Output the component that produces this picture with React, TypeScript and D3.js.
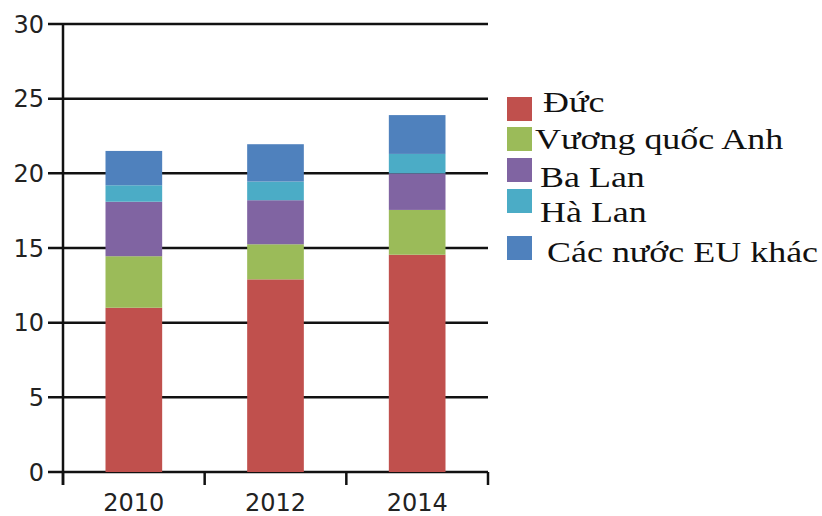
import React from "react";
import * as d3 from "d3";

const years = ["2010", "2012", "2014"];
const seriesNames = ["Đức", "Vương quốc Anh", "Ba Lan", "Hà Lan", "Các nước EU khác"];
const duc = [11.0, 12.9, 14.55];
const vuongQuocAnh = [3.45, 2.35, 3.0];
const baLan = [3.65, 2.95, 2.45];
const haLan = [1.1, 1.25, 1.3];
const euKhac = [2.3, 2.5, 2.6];
const yTicks = [0, 5, 10, 15, 20, 25, 30];
const colors = ["#c0504d", "#9bbb59", "#8064a2", "#4bacc6", "#4f81bd"];

const W = 822;
const H = 516;
const left = 63;
const right = 488;
const top = 24;
const bottom = 472;

export default function App() {
  const seriesValues = [duc, vuongQuocAnh, baLan, haLan, euKhac];
  const rows = years.map((y, i) => {
    const r: Record<string, number | string> = { year: y };
    seriesNames.forEach((n, s) => (r[n] = seriesValues[s][i]));
    return r;
  });
  const stack = d3.stack<any>().keys(seriesNames)(rows);

  const x = d3.scaleBand().domain(years).range([left, right]).paddingInner(0).paddingOuter(0);
  const y = d3.scaleLinear().domain([0, 30]).range([bottom, top]);
  const barW = x.bandwidth() * 0.4;

  const axisFont = "'DejaVu Sans', Verdana, sans-serif";
  const legendFont = "'Liberation Serif', 'Times New Roman', serif";

  const bandEdges = [...years.map((d) => x(d) as number), right];

  return (
    <svg
      width={W}
      height={H}
      style={{ position: "absolute", left: 0, top: 0, background: "#fff" }}
    >
      {/* gridlines and y ticks */}
      {yTicks.map((t) => (
        <g key={t}>
          <line x1={48} x2={right} y1={y(t)} y2={y(t)} stroke="#111" strokeWidth={2.5} />
          <text
            x={44}
            y={y(t)}
            dy="0.36em"
            textAnchor="end"
            fontFamily={axisFont}
            fontSize={24}
            fill="#222"
          >
            {t}
          </text>
        </g>
      ))}

      {/* stacked bars */}
      {stack.map((layer, s) => (
        <g key={layer.key} fill={colors[s]}>
          {layer.map((d, i) => (
            <rect
              key={i}
              x={(x(years[i]) as number) + (x.bandwidth() - barW) / 2}
              y={y(d[1])}
              width={barW}
              height={y(d[0]) - y(d[1])}
            />
          ))}
        </g>
      ))}

      {/* y axis */}
      <line x1={left} x2={left} y1={top} y2={bottom + 13} stroke="#111" strokeWidth={2.5} />
      {/* x axis ticks between categories */}
      {bandEdges.map((e, i) => (
        <line key={i} x1={e} x2={e} y1={bottom} y2={bottom + 13} stroke="#111" strokeWidth={2.5} />
      ))}
      {years.map((yr) => (
        <text
          key={yr}
          x={(x(yr) as number) + x.bandwidth() / 2}
          y={511}
          textAnchor="middle"
          fontFamily={axisFont}
          fontSize={24}
          fill="#222"
        >
          {yr}
        </text>
      ))}

      {/* legend */}
      {seriesNames.map((n, i) => {
        const swatchY = [97, 127, 158, 189, 236][i];
        const textX = [543, 535, 540, 540, 547][i];
        const textY = [112, 149, 187, 222, 262][i];
        return (
          <g key={n}>
            <rect x={507} y={swatchY} width={25} height={24} fill={colors[i]} />
            <text
              transform={`translate(${textX},${textY}) scale(1.24,1)`}
              fontFamily={legendFont}
              fontSize={29}
              fill="#111"
            >
              {n}
            </text>
          </g>
        );
      })}
    </svg>
  );
}
